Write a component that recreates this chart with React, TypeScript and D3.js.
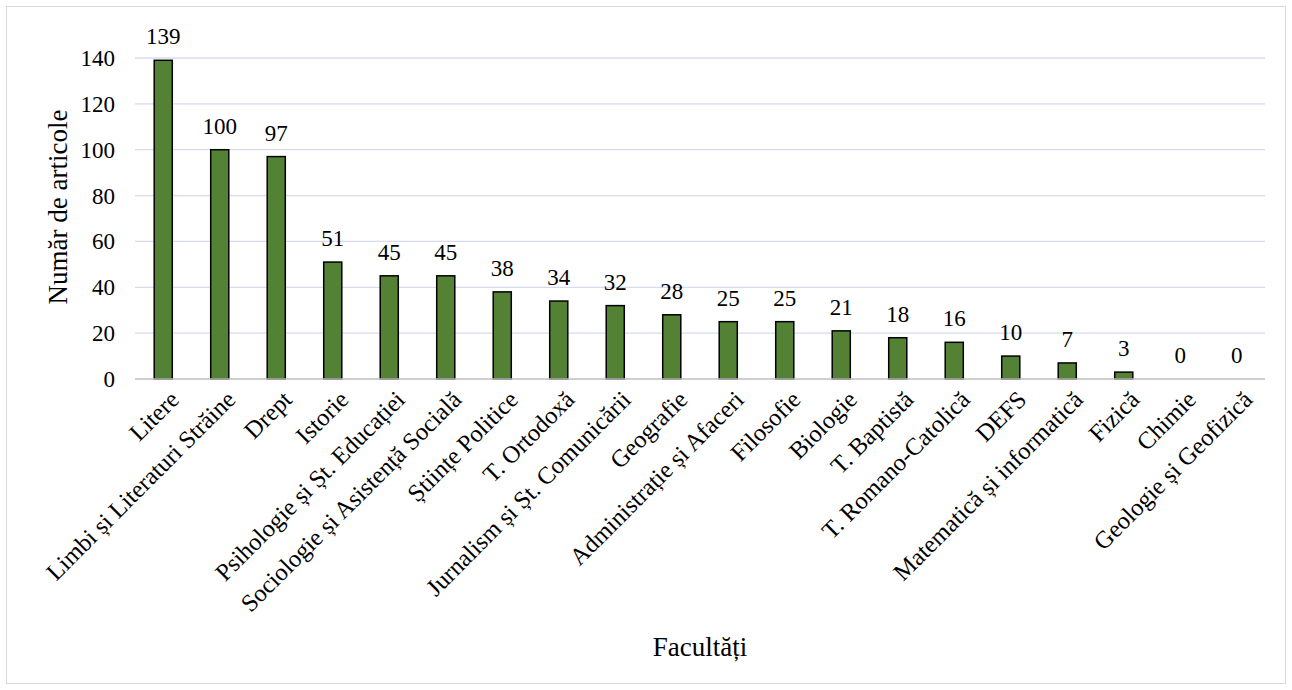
import * as d3 from 'd3';

const faculties = [
  'Litere', 'Limbi și Literaturi Străine', 'Drept', 'Istorie', 'Psihologie și Șt. Educației',
  'Sociologie și Asistență Socială', 'Științe Politice', 'T. Ortodoxă', 'Jurnalism și Șt. Comunicării',
  'Geografie', 'Administrație și Afaceri', 'Filosofie', 'Biologie', 'T. Baptistă', 'T. Romano-Catolică',
  'DEFS', 'Matematică și informatică', 'Fizică', 'Chimie', 'Geologie și Geofizică',
];
const articles = [139, 100, 97, 51, 45, 45, 38, 34, 32, 28, 25, 25, 21, 18, 16, 10, 7, 3, 0, 0];
const yTicks = [0, 20, 40, 60, 80, 100, 120, 140];

const W = 1292, H = 690;
const left = 135, right = 1265, top = 58, bottom = 379;
const ff = "'Liberation Serif', Tinos, 'Times New Roman', FreeSerif";

export default function App() {
  const x = d3.scaleBand<string>()
    .domain(faculties)
    .range([left, right])
    .paddingInner(0.68)
    .paddingOuter(0.34);
  const y = d3.scaleLinear().domain([0, 140]).range([bottom, top]);
  const cx = (f: string) => (x(f) as number) + x.bandwidth() / 2;
  const txt = (size: number) => ({ fontFamily: ff, fontSize: `${size}px` });

  return (
    <svg width={W} height={H} style={{ position: 'absolute', left: 0, top: 0 }}>
      {/* chart border */}
      <rect x={6.5} y={6.5} width={W - 13} height={H - 13} fill="#fff" stroke="#d9d9d9" />

      {/* grid */}
      {yTicks.filter(t => t > 0).map(t => (
        <line key={t} x1={left} x2={right} y1={y(t)} y2={y(t)} stroke="#d6dcef" strokeWidth={1.3} />
      ))}

      {/* y tick labels */}
      {yTicks.map(t => (
        <text key={t} x={115} y={y(t)} dy="0.35em" textAnchor="end" style={txt(23)}>{t}</text>
      ))}

      {/* bars */}
      {articles.map((v, i) => (
        <rect key={faculties[i]} x={x(faculties[i])} width={x.bandwidth()} y={y(v)} height={y(0) - y(v)}
          fill="#548235" stroke="#000" strokeWidth={1.5} />
      ))}

      {/* baseline */}
      <line x1={left} x2={right} y1={y(0)} y2={y(0)} stroke="#bfbfbf" strokeWidth={1.5} />

      {/* value labels */}
      {articles.map((v, i) => (
        <text key={faculties[i]} x={cx(faculties[i])} y={y(v) - 16} textAnchor="middle" style={txt(23)}>{v}</text>
      ))}

      {/* category labels */}
      {faculties.map(f => (
        <text key={f} transform={`translate(${cx(f) + 5},${bottom + 10}) rotate(-45)`} dy="0.7em" textAnchor="end"
          style={txt(24.4)}>{f}</text>
      ))}

      {/* axis titles */}
      <text x={700} y={656} textAnchor="middle" style={txt(27)}>Facultăți</text>
      <text transform="translate(67,207) rotate(-90)" textAnchor="middle" style={txt(27)}>Număr de articole</text>
    </svg>
  );
}
